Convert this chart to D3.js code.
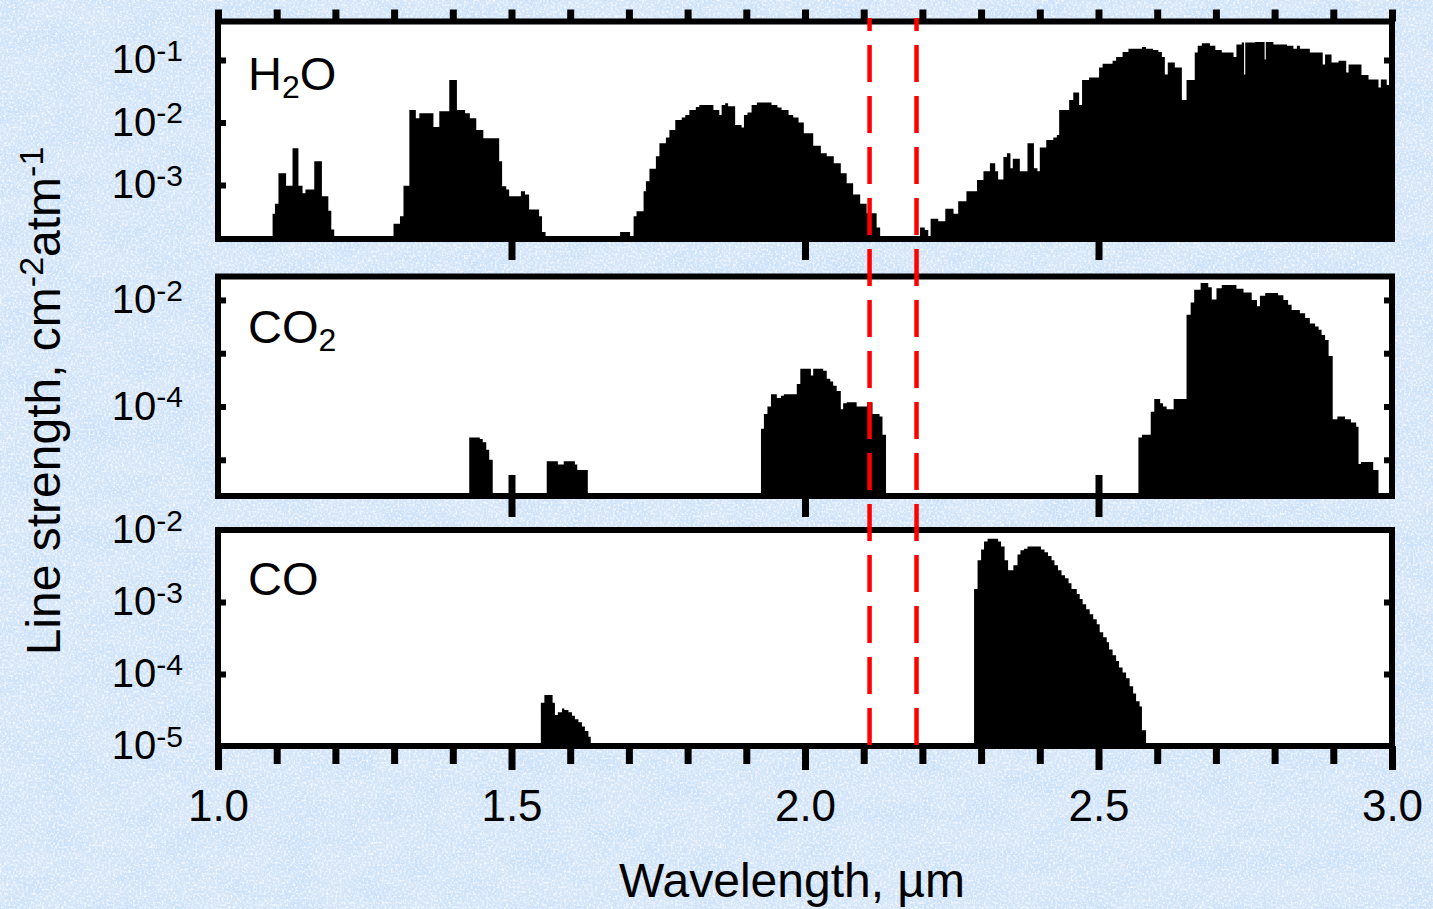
<!DOCTYPE html>
<html><head><meta charset="utf-8">
<script src="https://cdn.jsdelivr.net/npm/d3@7"></script>
<style>html,body{margin:0;padding:0;overflow:hidden;background:#d8e8f8}
svg{font-family:"Liberation Sans",Arial,sans-serif}</style>
</head><body><svg id="c" width="1433" height="909"></svg>
<script>
// ---------- DATA (step spectra: band start wavelength in µm, log10 line strength; null = no lines) ----------
const h2oWl = [1.000,1.093,1.097,1.103,1.116,1.127,1.137,1.144,1.149,1.164,1.177,1.188,1.193,1.198,
  1.299,1.310,1.316,1.326,1.337,1.343,1.367,1.377,1.394,1.407,1.421,1.429,1.440,1.452,1.479,1.484,1.491,1.496,1.516,1.523,1.530,1.547,1.552,1.558,
  1.685,1.702,1.708,1.713,1.725,1.729,1.735,1.746,1.752,1.763,1.769,1.779,1.790,1.796,1.803,1.814,1.820,1.844,1.854,1.858,1.864,1.869,1.881,1.892,1.896,1.902,1.909,1.918,1.943,1.953,1.960,1.972,1.980,1.989,1.998,2.014,2.027,2.037,2.049,2.061,2.071,2.082,2.094,2.105,2.122,2.128,
  2.196,2.204,2.210,2.214,2.227,2.239,2.253,2.261,2.275,2.293,2.304,2.315,2.324,2.329,2.338,2.344,2.350,2.354,2.366,2.379,2.390,2.396,2.400,2.411,2.423,2.429,2.433,2.450,2.457,2.467,2.472,2.484,2.501,2.507,2.524,2.530,2.541,2.551,2.574,2.581,2.593,2.602,2.608,2.613,2.618,2.630,2.642,2.650,2.664,2.669,2.676,2.690,2.699,2.710,2.730,2.735,2.744,2.748,2.750,2.767,2.783,2.785,2.798,2.821,2.832,2.838,2.843,2.860,2.882,2.886,2.897,2.909,2.922,2.926,2.948,2.960,2.977,2.981,2.991];
const h2oLogS = [null,-3.46,-3.30,-2.81,-3.01,-2.41,-3.01,-3.13,-3.07,-2.62,-3.18,-3.41,-3.71,null,
  -3.62,-3.50,-3.01,-1.80,-1.93,-1.85,-2.07,-1.82,-1.32,-1.80,-1.85,-1.93,-2.12,-2.25,-2.62,-3.02,-3.07,-3.18,-3.10,-3.15,-3.39,-3.50,-3.75,null,
  -3.75,null,-3.50,-3.42,-3.10,-2.94,-2.74,-2.54,-2.33,-2.24,-2.12,-1.96,-1.92,-1.88,-1.80,-1.75,-1.72,-1.80,-1.88,-1.72,-1.69,-1.74,-2.04,-2.08,-1.88,-1.84,-1.72,-1.68,-1.72,-1.76,-1.80,-1.88,-1.92,-2.00,-2.17,-2.37,-2.49,-2.54,-2.65,-2.81,-2.97,-3.15,-3.30,-3.45,-3.68,null,
  -3.68,-3.72,null,-3.54,-3.58,-3.38,-3.46,-3.26,-3.10,-2.92,-2.78,-2.65,-2.78,-2.91,-2.55,-2.49,-2.73,-2.58,-2.78,-2.33,-2.73,-2.78,-2.40,-2.28,-2.24,-2.20,-1.80,-1.64,-1.52,-1.72,-1.32,-1.28,-1.12,-1.06,-1.01,-0.95,-0.87,-0.82,-0.79,-0.82,-0.84,-0.87,-0.95,-1.23,-1.04,-1.12,-1.64,-1.32,-0.88,-0.77,-0.73,-0.77,-0.84,-0.88,-0.95,-0.75,-0.72,-1.23,-0.72,-0.71,-0.99,-0.71,-0.75,-0.77,-0.82,-0.77,-0.82,-0.88,-1.07,-0.91,-1.04,-1.01,-1.20,-1.07,-1.24,-1.31,-1.44,-1.31,-1.40];

const co2Wl = [1.000,1.428,1.446,1.451,1.457,1.462,1.468,1.560,1.579,1.589,1.608,1.612,1.630,
  1.925,1.930,1.936,1.942,1.952,1.959,1.964,1.986,1.992,2.010,2.014,2.031,2.037,2.043,2.048,2.054,2.061,2.065,2.071,2.088,2.106,2.115,2.127,2.132,2.138,
  2.568,2.574,2.589,2.595,2.605,2.610,2.616,2.628,2.650,2.657,2.663,2.674,2.687,2.693,2.701,2.710,2.735,2.747,2.761,2.770,2.775,2.784,2.806,2.815,2.823,2.829,2.843,2.852,2.860,2.869,2.875,2.880,2.886,2.892,2.899,2.907,2.920,2.930,2.939,2.943,2.947,2.968,2.977];
const co2LogS = [null,-4.58,-4.61,-4.67,-4.81,-5.00,null,-5.03,-5.09,-5.03,-5.09,-5.19,null,
  -4.42,-4.14,-4.00,-3.77,-3.84,-3.80,-3.77,-3.58,-3.29,-3.42,-3.29,-3.33,-3.48,-3.53,-3.61,-3.71,-4.05,-3.94,-3.92,-4.00,-3.92,-4.14,-4.19,-4.53,null,
  -4.58,-4.53,-4.10,-3.86,-3.94,-4.00,-4.05,-3.86,-2.28,-2.05,-1.81,-1.68,-1.76,-1.99,-1.78,-1.72,-1.79,-1.86,-2.00,-2.12,-1.92,-1.87,-1.91,-2.00,-2.09,-2.19,-2.25,-2.34,-2.44,-2.50,-2.56,-2.66,-2.75,-3.05,-4.24,-4.19,-4.24,-4.30,-4.38,-5.08,-5.04,-5.19,null];

const coWl = [1.000,1.550,1.556,1.570,1.574,1.579,1.586,1.590,1.597,1.603,1.608,1.614,1.620,1.625,1.631,1.635,
  2.288,2.294,2.300,2.305,2.311,2.329,2.334,2.340,2.346,2.355,2.362,2.367,2.373,2.379,2.402,2.408,2.414,2.420,2.425,2.431,2.437,2.443,2.449,2.454,2.463,2.468,2.473,2.479,2.485,2.491,2.497,2.502,2.508,2.514,2.518,2.524,2.530,2.535,2.541,2.547,2.553,2.559,2.564,2.570,2.574,2.581];
const coLogS = [null,-4.40,-4.29,-4.40,-4.57,-4.53,-4.48,-4.50,-4.53,-4.58,-4.63,-4.67,-4.73,-4.79,-4.87,null,
  -2.82,-2.42,-2.27,-2.16,-2.12,-2.16,-2.23,-2.42,-2.56,-2.49,-2.34,-2.28,-2.26,-2.23,-2.27,-2.31,-2.36,-2.42,-2.49,-2.56,-2.63,-2.67,-2.74,-2.82,-2.89,-2.96,-3.03,-3.10,-3.17,-3.24,-3.31,-3.42,-3.49,-3.56,-3.66,-3.74,-3.82,-3.91,-3.98,-4.06,-4.17,-4.27,-4.38,-4.45,-4.78,null];

const xTickValues = [1.0,1.1,1.2,1.3,1.4,1.5,1.6,1.7,1.8,1.9,2.0,2.1,2.2,2.3,2.4,2.5,2.6,2.7,2.8,2.9,3.0];
const xMajorTicks = [1.0,1.5,2.0,2.5,3.0];
const h2oTickExp = [-1,-2,-3];
const h2oLabelExp = [-1,-2,-3];
const co2TickExp = [-2,-3,-4,-5];
const co2LabelExp = [-2,-4];
const coTickExp = [-3,-4];
const coLabelExp = [-2,-3,-4,-5];
const windowEdges = [2.11, 2.19];   // µm, red dashed markers
const xTitle = "Wavelength, µm";

// ---------- LAYOUT ----------
const W = 1433, H = 909;
const X0 = 218, X1 = 1392;
const svg = d3.select("#c");
const defs = svg.append("defs");
const f1 = defs.append("filter").attr("id","tex").attr("x",0).attr("y",0).attr("width","100%").attr("height","100%");
f1.append("feTurbulence").attr("type","fractalNoise").attr("baseFrequency","0.025 0.04").attr("numOctaves",4).attr("seed",11);
f1.append("feColorMatrix").attr("type","matrix").attr("values","0 0 0 0 0.60  0 0 0 0 0.76  0 0 0 0 0.95  2.6 0 0 0 -1.0");
const f2 = defs.append("filter").attr("id","spk").attr("x",0).attr("y",0).attr("width","100%").attr("height","100%");
f2.append("feTurbulence").attr("type","fractalNoise").attr("baseFrequency","0.45").attr("numOctaves",2).attr("seed",3);
f2.append("feColorMatrix").attr("type","matrix").attr("values","0 0 0 0 0.95  0 0 0 0 0.96  0 0 0 0 1  2.6 0 0 0 -1.15");

svg.append("rect").attr("width",W).attr("height",H).attr("fill","#d5e6f8");
svg.append("rect").attr("width",W).attr("height",H).attr("filter","url(#tex)");
svg.append("rect").attr("width",W).attr("height",H).attr("filter","url(#spk)");

const x = d3.scaleLinear().domain([1,3]).range([X0,X1]);

const panels = [
  {wl:h2oWl, s:h2oLogS, top:21.5, bottom:239, eMin:-3.864, eMax:-0.384, ticks:h2oTickExp, labels:h2oLabelExp,
   name:["H","2","O"], nameY:90, midTicks:true},
  {wl:co2Wl, s:co2LogS, top:276.5, bottom:496, eMin:-5.68, eMax:-1.56, ticks:co2TickExp, labels:co2LabelExp,
   name:["CO","2",""], nameY:343, midTicks:true},
  {wl:coWl, s:coLogS, top:530, bottom:746, eMin:-5, eMax:-2, ticks:coTickExp, labels:coLabelExp,
   name:["CO","",""], nameY:595, midTicks:false}
];

const BW = 6;
panels.forEach((p, pi) => {
  const y = d3.scaleLog().domain([Math.pow(10,p.eMin), Math.pow(10,p.eMax)]).range([p.bottom, p.top]).clamp(true);
  svg.append("rect").attr("x",X0).attr("y",p.top).attr("width",X1-X0).attr("height",p.bottom-p.top).attr("fill","#fff");

  const pts = p.wl.map((w,i)=>({w:w, v:p.s[i]==null?null:Math.pow(10,p.s[i])}));
  pts.push({w:3.0, v:pts[pts.length-1].v});
  const area = d3.area().curve(d3.curveStepAfter)
    .x(d=>x(d.w)).y0(p.bottom).y1(d=>d.v==null?p.bottom:y(d.v));
  svg.append("path").datum(pts).attr("d",area).attr("fill","#000");

  // inner y ticks, left and right
  const tv = p.ticks.map(e=>Math.pow(10,e));
  const gL = svg.append("g").attr("transform",`translate(${X0},0)`).call(d3.axisRight(y).tickValues(tv).tickSize(8).tickFormat(""));
  const gR = svg.append("g").attr("transform",`translate(${X1},0)`).call(d3.axisLeft(y).tickValues(tv).tickSize(8).tickFormat(""));
  [gL,gR].forEach(g=>{g.select(".domain").remove(); g.selectAll(".tick line").attr("stroke","#000").attr("stroke-width",6);});

  // y labels
  const lv = p.labels.map(e=>Math.pow(10,e));
  const gT = svg.append("g").attr("transform",`translate(${X0},0)`)
    .call(d3.axisLeft(y).tickValues(lv).tickSize(0).tickPadding(35).tickFormat(""));
  gT.select(".domain").remove();
  gT.selectAll(".tick text").attr("fill","#000").attr("font-size","40px").attr("font-family",'"Liberation Sans",Arial,sans-serif')
    .each(function(d){
      const t = d3.select(this); const e = Math.round(Math.log10(d));
      t.text(null);
      t.append("tspan").text("10");
      t.append("tspan").attr("dy","-0.42em").attr("font-size","30px").text(String(e));
    });

  if (p.midTicks) {
    const mv = [1.5,2.0,2.5];
    const gi = svg.append("g").attr("transform",`translate(0,${p.bottom})`).call(d3.axisTop(x).tickValues(mv).tickSize(21).tickFormat(""));
    const go = svg.append("g").attr("transform",`translate(0,${p.bottom})`).call(d3.axisBottom(x).tickValues(mv).tickSize(21).tickFormat(""));
    [gi,go].forEach(g=>{g.select(".domain").remove(); g.selectAll(".tick line").attr("stroke","#000").attr("stroke-width",7);});
  }

  // frame
  svg.append("rect").attr("x",X0).attr("y",p.top).attr("width",X1-X0).attr("height",p.bottom-p.top)
    .attr("fill","none").attr("stroke","#000").attr("stroke-width",BW);

  // panel label
  const nt = svg.append("text").attr("x",248).attr("y",p.nameY).attr("font-size","47px").attr("fill","#000");
  nt.append("tspan").text(p.name[0]);
  if (p.name[1]) nt.append("tspan").attr("font-size","32px").attr("dy","8").text(p.name[1]);
  if (p.name[2]) nt.append("tspan").attr("dy","-8").text(p.name[2]);

  if (pi === 0) {
    const gtop = svg.append("g").attr("transform",`translate(0,${p.top})`).call(d3.axisTop(x).tickValues(xTickValues).tickSize(12).tickFormat(""));
    gtop.select(".domain").remove();
    gtop.selectAll(".tick line").attr("stroke","#000").attr("stroke-width",7);
  }
  if (pi === 2) {
    const minor = xTickValues.filter(v=>!xMajorTicks.some(m=>Math.abs(m-v)<1e-9));
    const gmin = svg.append("g").attr("transform",`translate(0,${p.bottom})`).call(d3.axisBottom(x).tickValues(minor).tickSize(18).tickFormat(""));
    gmin.select(".domain").remove();
    gmin.selectAll(".tick line").attr("stroke","#000").attr("stroke-width",7);
    const gmaj = svg.append("g").attr("transform",`translate(0,${p.bottom})`).call(d3.axisBottom(x).tickValues(xMajorTicks).tickSize(24).tickPadding(20).tickFormat(d3.format(".1f")));
    gmaj.select(".domain").remove();
    gmaj.selectAll(".tick line").attr("stroke","#000").attr("stroke-width",7);
    gmaj.selectAll(".tick text").attr("fill","#000").attr("font-size","44px").attr("font-family",'"Liberation Sans",Arial,sans-serif');
  }
});

// red dashed window markers
svg.selectAll("line.win").data(windowEdges).enter().append("line").attr("class","win")
  .attr("x1",d=>x(d)).attr("x2",d=>x(d)).attr("y1",18).attr("y2",749)
  .attr("stroke","#ff0000").attr("stroke-width",4.5).attr("stroke-dasharray","37,14").attr("stroke-dashoffset",24);

// axis titles
svg.append("text").attr("x",792).attr("y",897).attr("text-anchor","middle").attr("font-size","48px").attr("fill","#000").text(xTitle);
const yt = svg.append("text").attr("transform","translate(60,401) rotate(-90)").attr("text-anchor","middle").attr("font-size","48px").attr("fill","#000");
yt.append("tspan").text("Line strength, cm");
yt.append("tspan").attr("dy","-17").attr("font-size","34px").text("-2");
yt.append("tspan").attr("dy","17").text("atm");
yt.append("tspan").attr("dy","-17").attr("font-size","34px").text("-1");
</script>
</body></html>
